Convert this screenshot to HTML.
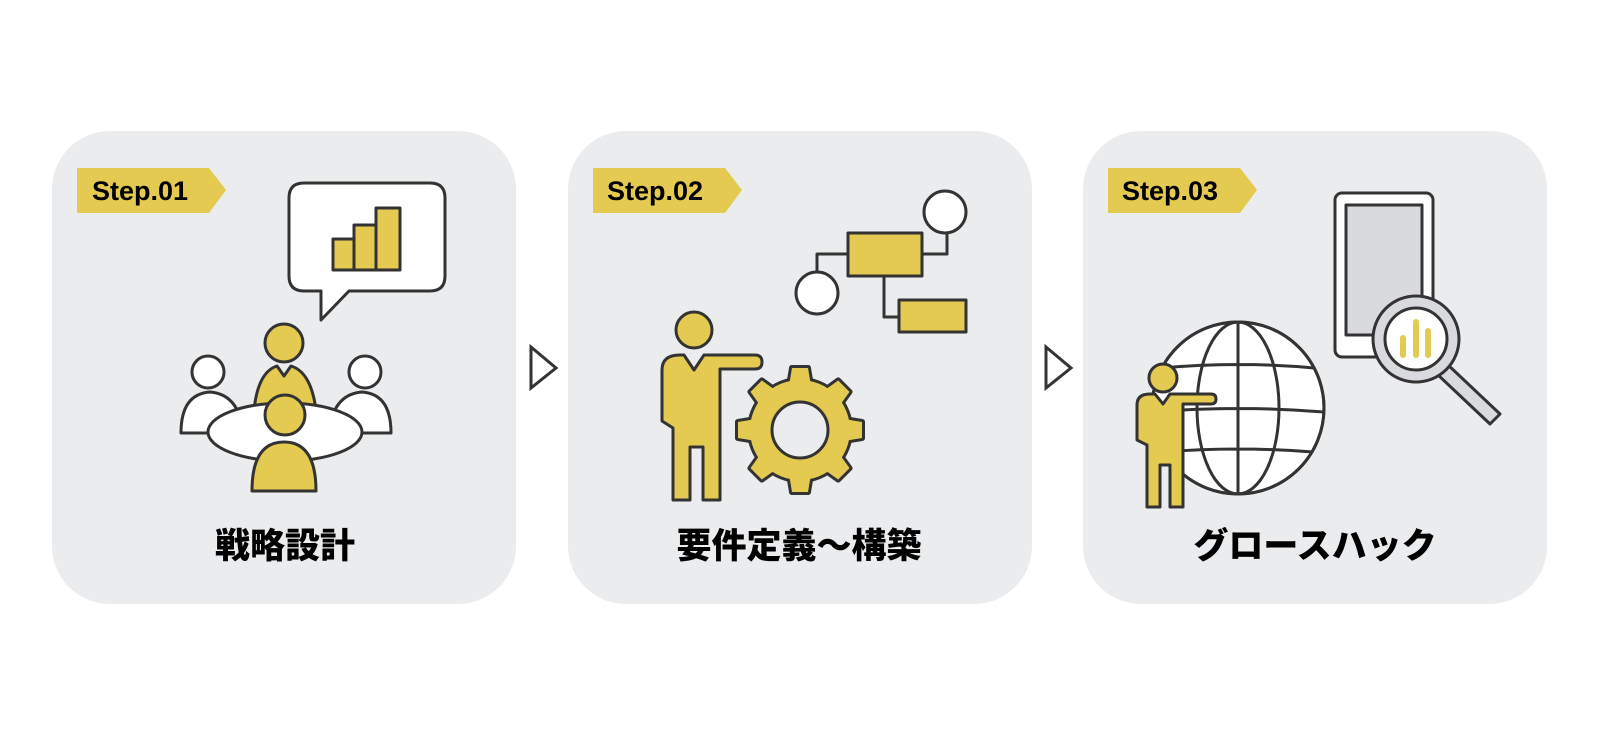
<!DOCTYPE html>
<html><head><meta charset="utf-8"><style>
html,body{margin:0;padding:0;background:#fff;}
svg{display:block}
.t{font-family:"Liberation Sans",Arial,sans-serif;font-weight:bold;font-size:27px;fill:#000}
.l{font-family:"Liberation Sans","Noto Sans CJK JP",sans-serif;font-weight:900;font-size:35px;fill:#000}
</style></head><body>
<svg width="1600" height="736" viewBox="0 0 1600 736" xmlns="http://www.w3.org/2000/svg">
<defs>
<path id="tooth" d="M-8,-62 L8,-62 L12,-38 L-12,-38 Z"/>
</defs>
<g fill="#ebecee">
<rect x="52" y="131" width="464" height="473" rx="58"/>
<rect x="568" y="131" width="464" height="473" rx="58"/>
<rect x="1083" y="131" width="464" height="473" rx="58"/>
</g>
<g fill="none" stroke="#333" stroke-width="3">
<path d="M531,347 L556,368 L531,388 Z"/>
<path d="M1046,347 L1071,368 L1046,388 Z"/>
</g>
<g fill="#e4ca50">
<path d="M77,168 H209 L226,190 L209,213 H77 Z"/>
<path d="M593,168 H725 L742,190 L725,213 H593 Z"/>
<path d="M1108,168 H1240 L1257,190 L1240,213 H1108 Z"/>
</g>
<text class="t" x="92" y="200">Step.01</text>
<text class="t" x="607" y="200">Step.02</text>
<text class="t" x="1122" y="200">Step.03</text>
<text class="l" x="285" y="558" text-anchor="middle">戦略設計</text>
<text class="l" x="799" y="558" text-anchor="middle">要件定義～構築</text>
<text class="l" x="1315" y="558" text-anchor="middle">グロースハック</text>

<g stroke="#333" stroke-width="3" stroke-linejoin="round">
<path d="M304,183 H430 Q445,183 445,198 V276 Q445,291 430,291 H349 L321,320 V291 H304 Q289,291 289,276 V198 Q289,183 304,183 Z" fill="#fff"/>
<rect x="333" y="239" width="21" height="31" fill="#e4ca50"/>
<rect x="354" y="225" width="22" height="45" fill="#e4ca50"/>
<rect x="376" y="208" width="24" height="62" fill="#e4ca50"/>
<circle cx="208" cy="372" r="16" fill="#fff"/>
<path d="M181,433 Q181,394 210,392 Q236,394 242,425 L242,433 Z" fill="#fff"/>
<circle cx="365" cy="372" r="16" fill="#fff"/>
<path d="M391,433 Q391,394 362,392 Q336,394 330,425 L330,433 Z" fill="#fff"/>
<circle cx="284" cy="343" r="19" fill="#e4ca50"/>
<path d="M254,410 Q258,372 277,366 L284,376 L291,366 Q311,372 316,410 Z" fill="#e4ca50"/>
<ellipse cx="285" cy="432" rx="77" ry="29" fill="#fff"/>
<circle cx="285" cy="415" r="20" fill="#e4ca50"/>
<path d="M252,491 Q252,442 284,442 Q316,442 316,491 Z" fill="#e4ca50"/>

<path d="M848,254 H817 V272 M922,254 H947 V233 M884,276 V317 H899" fill="none"/>
<circle cx="945" cy="212" r="21" fill="#fff"/>
<circle cx="817" cy="293" r="21" fill="#fff"/>
<rect x="848" y="233" width="74" height="43" fill="#e4ca50"/>
<rect x="899" y="300" width="67" height="32" fill="#e4ca50"/>
<circle cx="694" cy="330" r="18" fill="#e4ca50"/>
<path d="M662,370 Q662,355 680,355 L684,355 L694,370 L704,355 L755,355 Q762,355 762,362 Q762,369 755,369 L720,369 L720,500 L703,500 L703,447 L690,447 L690,500 L673,500 L673,428 L662,421 Z" fill="#e4ca50"/>
<g transform="translate(800,430)">
<g stroke-width="6" fill="#333">
<circle r="50"/>
<use href="#tooth"/><use href="#tooth" transform="rotate(45)"/><use href="#tooth" transform="rotate(90)"/><use href="#tooth" transform="rotate(135)"/>
<use href="#tooth" transform="rotate(180)"/><use href="#tooth" transform="rotate(225)"/><use href="#tooth" transform="rotate(270)"/><use href="#tooth" transform="rotate(315)"/>
</g>
<g stroke="none" fill="#e4ca50">
<circle r="50"/>
<use href="#tooth"/><use href="#tooth" transform="rotate(45)"/><use href="#tooth" transform="rotate(90)"/><use href="#tooth" transform="rotate(135)"/>
<use href="#tooth" transform="rotate(180)"/><use href="#tooth" transform="rotate(225)"/><use href="#tooth" transform="rotate(270)"/><use href="#tooth" transform="rotate(315)"/>
</g>
<circle r="28" fill="#ebecee"/>
</g>

<rect x="1335" y="193" width="98" height="164" rx="7" fill="#fff"/>
<rect x="1346" y="205" width="76" height="130" fill="#d8dade"/>
<path d="M1437,374 L1447,364 L1500,414 L1490,424 Z" fill="#d8dade"/>
<circle cx="1416" cy="339" r="43" fill="#d8dade"/>
<circle cx="1416" cy="339" r="31" fill="#fff"/>
<g stroke="#e4ca50" stroke-width="6" stroke-linecap="round">
<line x1="1403" y1="338" x2="1403" y2="355"/>
<line x1="1416" y1="322" x2="1416" y2="355"/>
<line x1="1428" y1="331" x2="1428" y2="355"/>
</g>
<circle cx="1238" cy="408" r="86" fill="#fff"/>
<path d="M1300,350 A86,86 0 0 1 1238,494 A86,86 0 0 0 1300,350 Z" fill="#d8dade" stroke="none"/>
<circle cx="1238" cy="408" r="86" fill="none"/>
<ellipse cx="1238" cy="408" rx="41" ry="86" fill="none"/>
<path d="M1238,322 V494 M1162,368 Q1238,361 1314,368 M1152,412 Q1238,405 1324,412 M1163,452 Q1238,446 1313,452" fill="none"/>
<circle cx="1163" cy="378" r="14" fill="#e4ca50"/>
<path d="M1137,405 Q1137,394 1150,394 L1155,394 L1163,404 L1170,394 L1211,394 Q1216,394 1216,399 Q1216,404 1211,404 L1183,404 L1183,507 L1170,507 L1170,465 L1160,465 L1160,507 L1147,507 L1147,445 L1137,440 Z" fill="#e4ca50"/>
</g>
</svg>
</body></html>
